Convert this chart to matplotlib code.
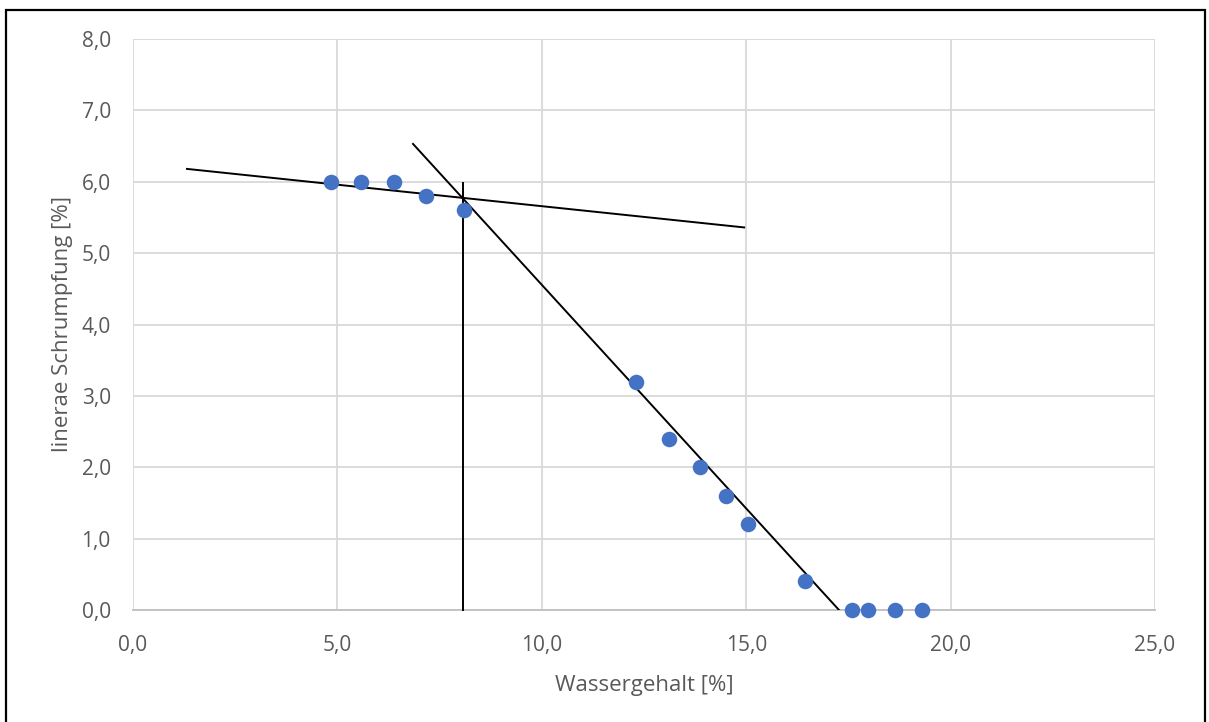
import matplotlib
matplotlib.use("Agg")
import matplotlib.pyplot as plt
from matplotlib.ticker import FuncFormatter, MultipleLocator
from matplotlib.patches import Rectangle

# Data
wassergehalt = [4.85, 5.58, 6.38, 7.17, 8.10, 12.30, 13.11, 13.87, 14.51, 15.04, 16.44, 17.59, 17.98, 18.64, 19.30]
schrumpfung = [6.0, 6.0, 6.0, 5.8, 5.6, 3.2, 2.4, 2.0, 1.6, 1.2, 0.4, 0.0, 0.0, 0.0, 0.0]

line1_x = [1.32, 14.95]
line1_y = [6.18, 5.36]
line2_x = [6.85, 17.27]
line2_y = [6.53, 0.0]
vline_x = [8.07, 8.07]
vline_y = [0.0, 5.98]

x_label = "Wassergehalt [%]"
y_label = "linerae Schrumpfung [%]"

plt.rcParams['font.family'] = ['Open Sans', 'DejaVu Sans']

fig = plt.figure(figsize=(12.09, 7.22), dpi=100)
ax = fig.add_axes([133/1209, 112/722, (1155-133)/1209, (610-39)/722])

ax.set_xlim(0, 25)
ax.set_ylim(0, 8)
ax.xaxis.set_major_locator(MultipleLocator(5))
ax.yaxis.set_major_locator(MultipleLocator(1))
fmt = FuncFormatter(lambda v, p: f"{v:.1f}".replace(".", ","))
ax.xaxis.set_major_formatter(fmt)
ax.yaxis.set_major_formatter(fmt)

ax.grid(True, color="#d9d9d9", linewidth=1.3, zorder=0)
for s in ["top", "right", "left"]:
    ax.spines[s].set_visible(False)
ax.spines["bottom"].set_color("#bfbfbf")
ax.spines["bottom"].set_linewidth(1.3)
ax.tick_params(length=0, labelsize=15, colors="#595959", pad=16)
ax.tick_params(axis="x", pad=18)

ax.plot(line1_x, line1_y, color="black", lw=1.4, zorder=3)
ax.plot(line2_x, line2_y, color="black", lw=1.4, zorder=3)
ax.plot(vline_x, vline_y, color="black", lw=1.4, zorder=3, clip_on=False)
ax.scatter(wassergehalt, schrumpfung, s=125, color="#4472c4", zorder=4, clip_on=False, linewidths=0)

ax.set_xlabel(x_label, fontsize=16, color="#595959", labelpad=14)
ax.set_ylabel(y_label, fontsize=16, color="#595959", labelpad=6)

fig.patches.append(Rectangle((6/1209, -0.05), (1205-6)/1209, (722-10)/722 + 0.05,
                             transform=fig.transFigure, fill=False, edgecolor="black",
                             linewidth=1.6, zorder=10))

fig.savefig("out.png", dpi=100)
